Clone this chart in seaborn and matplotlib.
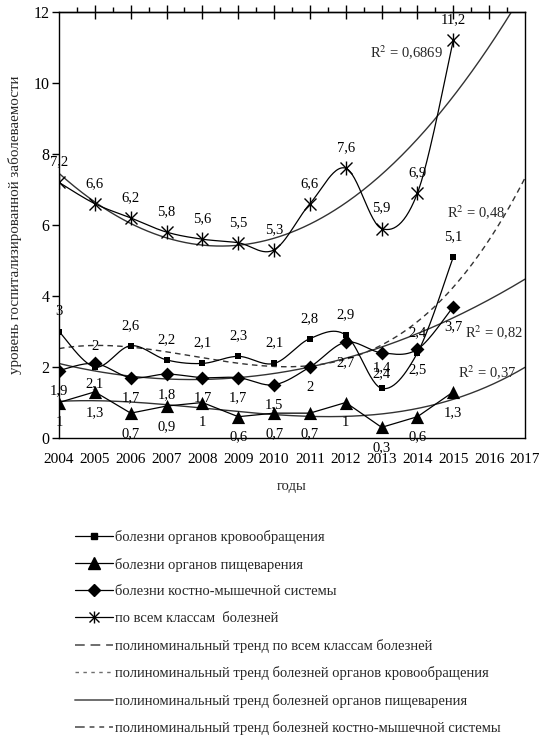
import numpy as np
import pandas as pd
import matplotlib
matplotlib.use("Agg")
import matplotlib.pyplot as plt
import seaborn as sns
from matplotlib.lines import Line2D
from matplotlib.legend_handler import HandlerTuple
from matplotlib.ticker import MultipleLocator

# Hospitalized morbidity by disease class, 2004-2015
years = [2004, 2005, 2006, 2007, 2008, 2009, 2010, 2011, 2012, 2013, 2014, 2015]
circulatory = [3, 2, 2.6, 2.2, 2.1, 2.3, 2.1, 2.8, 2.9, 1.4, 2.4, 5.1]
digestive = [1, 1.3, 0.7, 0.9, 1, 0.6, 0.7, 0.7, 1, 0.3, 0.6, 1.3]
musculoskeletal = [1.9, 2.1, 1.7, 1.8, 1.7, 1.7, 1.5, 2, 2.7, 2.4, 2.5, 3.7]
all_classes = [7.2, 6.6, 6.2, 5.8, 5.6, 5.5, 5.3, 6.6, 7.6, 5.9, 6.9, 11.2]

year_labels = [str(y) for y in range(2004, 2018)]
r2_labels = {"all": "0,6869", "circ": "0,48", "dig": "0,37", "musc": "0,82"}
trend_degree = {"all": 2, "circ": 3, "dig": 3, "musc": 2}

legend_labels = [
    "болезни органов кровообращения",
    "болезни органов пищеварения",
    "болезни костно-мышечной системы",
    "по всем классам  болезней",
    "полиноминальный тренд по всем классам болезней",
    "полиноминальный тренд болезней органов кровообращения",
    "полиноминальный тренд болезней органов пищеварения",
    "полиноминальный тренд болезней костно-мышечной системы",
]

sns.set_theme(style="ticks")
plt.rcParams["font.family"] = ["Liberation Serif", "DejaVu Serif"]
plt.rcParams["mathtext.fontset"] = "stix"
plt.rcParams["axes.linewidth"] = 1.0

df = pd.DataFrame({
    "year": years,
    "circ": circulatory,
    "dig": digestive,
    "musc": musculoskeletal,
    "all": all_classes,
})
df["t"] = np.arange(1, len(df) + 1)


def smooth(x, y, n=30):
    """Catmull-Rom curve through the points (spreadsheet-style smoothed line)."""
    x = np.asarray(x, float)
    y = np.asarray(y, float)
    px = np.concatenate([[x[0]], x, [x[-1]]])
    py = np.concatenate([[y[0]], y, [y[-1]]])
    xs, ys = [], []
    s = np.linspace(0, 1, n)
    for i in range(1, len(px) - 2):
        p0, p1, p2, p3 = (np.array([px[j], py[j]]) for j in (i - 1, i, i + 1, i + 2))
        c1 = p1 + (p2 - p0) / 6
        c2 = p2 - (p3 - p1) / 6
        b = ((1 - s) ** 3)[:, None] * p1 + (3 * (1 - s) ** 2 * s)[:, None] * c1 \
            + (3 * (1 - s) * s ** 2)[:, None] * c2 + (s ** 3)[:, None] * p2
        xs.append(b[:, 0])
        ys.append(b[:, 1])
    return np.concatenate(xs), np.concatenate(ys)


fig = plt.figure(figsize=(5.39, 7.42), dpi=100)
ax = fig.add_axes([59 / 539, 1 - 438 / 742, 466 / 539, 426 / 742])

black = "black"
trend_col = "#333333"
legend_trend_col = "#6e6e6e"

# Polynomial trends, fitted on the period index and extended two years ahead
tt = np.linspace(1, 14, 300)
trend_years = 2003 + tt
trend_styles = {"all": "-", "circ": (0, (4, 3)), "dig": "-", "musc": "-"}
for key in ["all", "circ", "dig", "musc"]:
    coef = np.polyfit(df["t"], df[key], trend_degree[key])
    ax.plot(trend_years, np.polyval(coef, tt), color=trend_col, lw=1.0,
            linestyle=trend_styles[key], zorder=2)

# Smoothed series lines
for key in ["circ", "musc", "all"]:
    sx, sy = smooth(df["year"], df[key])
    ax.plot(sx, sy, color=black, lw=0.9, zorder=3)
sns.lineplot(data=df, x="year", y="dig", ax=ax, color=black, lw=0.9, zorder=3)

# Markers
sns.scatterplot(data=df, x="year", y="circ", ax=ax, marker="s", s=22, color=black,
                edgecolor=black, linewidth=0, zorder=4)
sns.scatterplot(data=df, x="year", y="dig", ax=ax, marker="^", s=90, color=black,
                edgecolor=black, linewidth=0, zorder=4)
sns.scatterplot(data=df, x="year", y="musc", ax=ax, marker="D", s=50, color=black,
                edgecolor=black, linewidth=0, zorder=4)
ax.plot(df["year"], df["all"], linestyle="none", marker="x", ms=8, mew=1.0, color=black, zorder=4)
ax.plot(df["year"], df["all"], linestyle="none", marker="|", ms=10, mew=1.0, color=black, zorder=4)

# Value labels
def fmt(v):
    return f"{v:g}".replace(".", ",")

lab_fs = 10.5
for key, dy, va in [("all", 10, "bottom"), ("circ", 10, "bottom"),
                    ("musc", -10, "top"), ("dig", -10, "top")]:
    for xv, yv in zip(df["year"], df[key]):
        ax.annotate(fmt(yv), (xv, yv), xytext=(0, dy), textcoords="offset points",
                    ha="center", va=va, fontsize=lab_fs, color=black, zorder=5,
                    annotation_clip=False)

# R² annotations
ax.text(2013.7, 10.85, "R$^2$ = " + r2_labels["all"], fontsize=lab_fs, ha="center", va="center")
ax.text(2015.65, 6.34, "R$^2$ = " + r2_labels["circ"], fontsize=lab_fs, ha="center", va="center")
ax.text(2016.15, 2.95, "R$^2$ = " + r2_labels["musc"], fontsize=lab_fs, ha="center", va="center")
ax.text(2015.95, 1.83, "R$^2$ = " + r2_labels["dig"], fontsize=lab_fs, ha="center", va="center")

# Axes
ax.set_xlim(2004, 2017)
ax.set_ylim(0, 12)
ax.set_xticks(range(2004, 2018))
ax.set_xticklabels(year_labels, fontsize=11)
ax.yaxis.set_major_locator(MultipleLocator(2))
ax.tick_params(axis="y", labelsize=11.5, length=5, width=1.0, direction="out", pad=2, colors=black)
ax.tick_params(axis="x", length=0, pad=11, colors=black)
for sp in ax.spines.values():
    sp.set_visible(True)
    sp.set_color(black)
    sp.set_linewidth(1.0)
ax.set_xlabel("годы", fontsize=10.5, labelpad=10)
ax.set_ylabel("уровень госпитализированной заболеваемости", fontsize=10.8, labelpad=8)
ax.grid(False)

# Tick marks on the top border
top = ax.secondary_xaxis("top")
top.set_xticks(range(2005, 2017))
top.set_xticks(np.arange(2004.5, 2017, 1), minor=True)
top.tick_params(which="major", direction="inout", length=10, width=1.0, labeltop=False, colors=black)
top.tick_params(which="minor", direction="out", length=3.5, width=1.0, colors=black)
top.set_xticklabels([])
top.spines["top"].set_linewidth(1.0)

# Legend
h_circ = Line2D([], [], color=black, lw=0.9, marker="s", ms=4)
h_dig = Line2D([], [], color=black, lw=0.9, marker="^", ms=9)
h_musc = Line2D([], [], color=black, lw=0.9, marker="D", ms=6.5)
h_all = (Line2D([], [], color=black, lw=0.9, marker="x", ms=7, mew=1.0),
         Line2D([], [], color=black, lw=0, marker="|", ms=9, mew=1.0))
h_t_all = Line2D([], [], color=legend_trend_col, lw=1.4, linestyle=(0, (5, 3)))
h_t_circ = Line2D([], [], color=legend_trend_col, lw=1.0, linestyle=(0, (2.5, 3.2)))
h_t_dig = Line2D([], [], color=legend_trend_col, lw=1.4, linestyle="-")
h_t_musc = Line2D([], [], color=legend_trend_col, lw=1.4, linestyle=(0, (5, 2.5, 2.5, 2.5, 2.5, 2.5)))
handles = [h_circ, h_dig, h_musc, h_all, h_t_all, h_t_circ, h_t_dig, h_t_musc]
fig.legend(handles, legend_labels, loc="upper left", bbox_to_anchor=(75 / 539, 1 - 530 / 742),
           frameon=False, fontsize=10.5, handlelength=2.6, handletextpad=0.15,
           labelspacing=0.93, borderaxespad=0, borderpad=0,
           handler_map={tuple: HandlerTuple(ndivide=1, pad=0)})

fig.savefig("out.png", dpi=100)
